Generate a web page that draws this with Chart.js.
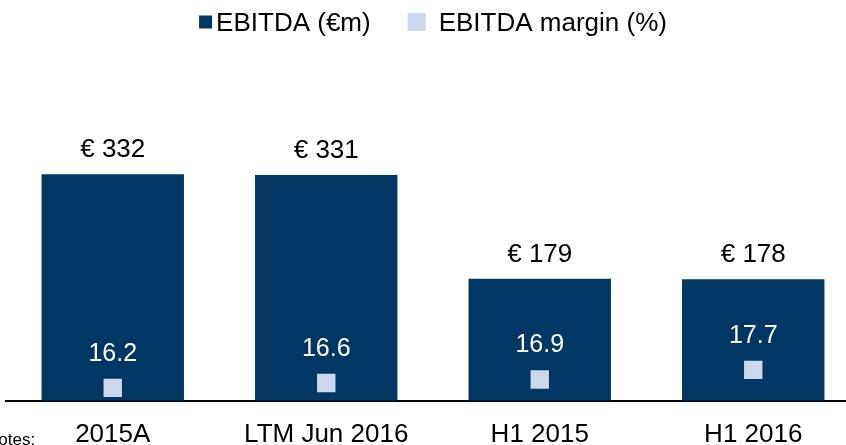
<!DOCTYPE html>
<html>
<head>
<meta charset="utf-8">
<script src="https://cdn.jsdelivr.net/npm/chart.js@4.4.0/dist/chart.umd.min.js"></script>
<style>
  html, body { margin: 0; padding: 0; background: #fff; }
  #wrap { width: 846px; height: 445px; overflow: hidden; position: relative; }
  #chart { display: block; position: absolute; left: -7px; top: 0; }
</style>
</head>
<body>
<div id="wrap"><canvas id="chart" width="880" height="468"></canvas></div>
<script>
/*********************************
 DATA
*********************************/
const categories = ["2015A", "LTM Jun 2016", "H1 2015", "H1 2016"];
const ebitda = [332, 331, 179, 178];
const margin = [16.2, 16.6, 16.9, 17.7];
const seriesNames = ["EBITDA (€m)", "EBITDA margin (%)"];
const noteText = "Notes:";

/*********************************
 STYLE
*********************************/
const NAVY = "#023763";
const LIGHT = "#ccd8ee";
const FONT = "'Liberation Sans', Arial, sans-serif";
const SHIFT = 7; // canvas sits 7px left of the window

/*********************************
 PLUGINS
*********************************/
// legend drawn by hand: the two boxes are not the same size in the original
const topLegend = {
  id: "topLegend",
  afterDraw(chart) {
    const ctx = chart.ctx;
    const boxes = [13, 18];
    const gaps = [4, 13];
    const spacing = 37;
    const baseY = 30.5;
    ctx.save();
    ctx.font = "26px " + FONT;
    const widths = chart.data.datasets.map(d => ctx.measureText(d.label).width);
    let total = spacing * (widths.length - 1);
    widths.forEach((w, i) => total += boxes[i] + gaps[i] + w);
    const area = chart.chartArea;
    let x = (area.left + area.right) / 2 - total / 2;
    chart.data.datasets.forEach((d, i) => {
      const s = boxes[i];
      ctx.fillStyle = d.legendColor;
      ctx.fillRect(x, 22 - s / 2, s, s);
      x += s + gaps[i];
      ctx.fillStyle = "#000";
      ctx.textAlign = "left";
      ctx.textBaseline = "alphabetic";
      ctx.fillText(d.label, x, baseY);
      x += widths[i] + spacing;
    });
    ctx.restore();
  }
};

const valueLabels = {
  id: "valueLabels",
  afterDatasetsDraw(chart) {
    const ctx = chart.ctx;
    ctx.save();
    ctx.font = "26px " + FONT;
    ctx.textAlign = "center";
    ctx.textBaseline = "alphabetic";

    chart.getDatasetMeta(0).data.forEach((bar, i) => {
      ctx.fillStyle = "#000";
      ctx.fillText("€ " + ebitda[i], bar.x, bar.y - 17);
    });

    ctx.font = "25px " + FONT;
    chart.getDatasetMeta(1).data.forEach((pt, i) => {
      ctx.fillStyle = "#fff";
      ctx.fillText(margin[i].toFixed(1), pt.x, pt.y - 27);
    });

    // footnote cut off at the bottom left
    ctx.font = "17px " + FONT;
    ctx.textAlign = "left";
    ctx.fillStyle = "#000";
    ctx.fillText(noteText, SHIFT - 14, 445);
    ctx.restore();
  }
};

/*********************************
 CHART
*********************************/
new Chart(document.getElementById("chart"), {
  data: {
    labels: categories,
    datasets: [
      {
        type: "bar",
        label: seriesNames[0],
        data: ebitda,
        backgroundColor: NAVY,
        legendColor: NAVY,
        yAxisID: "y",
        categoryPercentage: 1,
        barPercentage: 0.667,
        order: 2
      },
      {
        type: "line",
        label: seriesNames[1],
        data: margin,
        showLine: false,
        pointStyle: "rect",
        pointRadius: 13,
        pointBorderWidth: 0,
        pointBackgroundColor: LIGHT,
        pointBorderColor: LIGHT,
        legendColor: LIGHT,
        yAxisID: "y1",
        order: 1
      }
    ]
  },
  options: {
    responsive: false,
    animation: false,
    layout: { padding: { top: 59.6, left: 6, right: 2, bottom: 0 } },
    plugins: {
      legend: { display: false },
      tooltip: { enabled: false }
    },
    scales: {
      x: {
        grid: { display: false, drawTicks: false },
        border: { display: true, color: "#000", width: 2 },
        ticks: {
          color: "#000",
          padding: 18,
          font: { family: FONT, size: 26 }
        }
      },
      y: { display: false, min: 0, max: 500 },
      y1: { display: false, min: 15.12, max: 43.57 }
    }
  },
  plugins: [topLegend, valueLabels]
});
</script>
</body>
</html>
